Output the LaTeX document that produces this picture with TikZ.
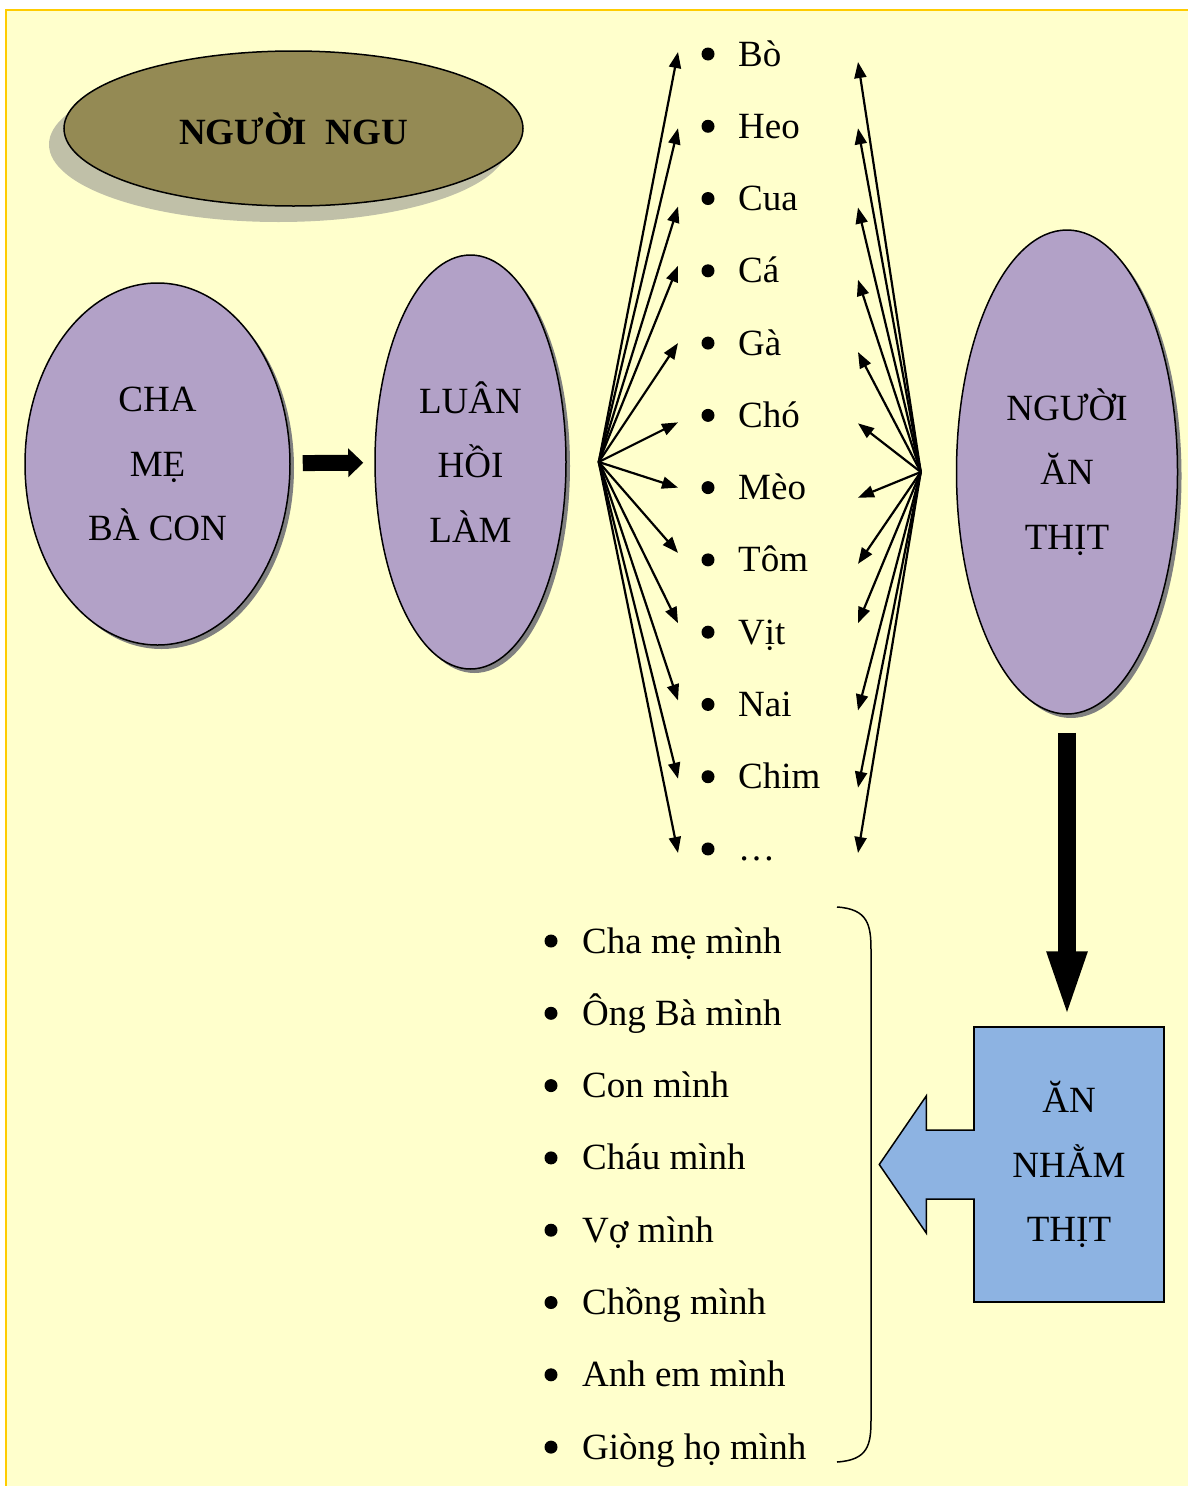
\documentclass[tikz,border=0pt]{standalone}
\usepackage{fontspec}
\setmainfont{Liberation Serif}
\usetikzlibrary{arrows.meta,positioning,shapes.geometric,shadows,calc}
\definecolor{paper}{HTML}{FFFFCC}
\definecolor{frame}{HTML}{FFCC00}
\definecolor{titlefill}{HTML}{948A54}
\definecolor{titleshade}{RGB}{192,192,168}
\definecolor{lilac}{HTML}{B2A1C7}
\definecolor{callblue}{HTML}{8DB3E2}

\begin{document}
\begin{tikzpicture}[
        x=1pt, y=-1pt,
        txt/.style={font=\fontsize{37}{64.5}\selectfont, align=center},
        oval/.style={ellipse, draw, line width=1.5pt, fill=lilac, inner sep=0pt, txt,
            drop shadow={shadow xshift=4pt, shadow yshift=-4pt, fill=black!50, opacity=1}},
        item/.style={anchor=base west, inner sep=0pt, font=\fontsize{37}{44}\selectfont},
        fan/.style={-{Triangle[length=16pt,width=12pt]}, line width=2.2pt},
        blk/.style={-{Triangle[length=15pt,width=28pt]}, line width=16pt},
        bigarr/.style={-{Triangle[length=70pt,width=35pt]}, line width=18pt},
    ]
        % page
        \useasboundingbox (0,0) rectangle (1188,1486);
        \fill[white] (0,0) rectangle (1188,1486);
        \fill[paper] (6,10) rectangle (1188,1486);
        \draw[frame, line width=2pt] (6,1486) -- (6,10) -- (1188,10);

        \node[ellipse, draw, line width=1.5pt, fill=titlefill, inner sep=0pt,
            minimum width=459pt, minimum height=155pt, font=\fontsize{37}{44}\selectfont\bfseries,
            drop shadow={shadow xshift=-15pt, shadow yshift=-16pt, fill=titleshade, opacity=1}]
            (ngu) at (293.5,128.5) {NGƯỜI~~NGU};

        \node[oval, minimum width=265pt, minimum height=362pt] (cha) at (157.5,464) {CHA\\MẸ\\BÀ CON};
        \node[oval, minimum width=191pt, minimum height=414pt] (luan) at (470.5,462) {LUÂN\\HỒI\\LÀM};
        \node[oval, minimum width=221pt, minimum height=484pt] (nguoi) at (1067,472) {NGƯỜI\\ĂN\\THỊT};
        \node[txt, draw, line width=1.5pt, fill=callblue, minimum width=190pt, minimum height=275pt]
            (an) at (1069,1164.5) {ĂN\\NHẰM\\THỊT};
        \filldraw[fill=callblue, line width=1.5pt] ($(an.west)+(1.5,-34.5)$) -- ($(an.west)+(-47,-34.5)$)
            -- ($(an.west)+(-47,-68.5)$) -- ($(an.west)+(-94,0)$) -- ($(an.west)+(-47,68.5)$)
            -- ($(an.west)+(-47,34.5)$) -- ($(an.west)+(1.5,34.5)$);

        \coordinate (hubL) at ([xshift=32pt]luan.east);
        \coordinate (hubR) at ([xshift=-35pt]nguoi.west);

        % animals
        \foreach \i/\t/\l/\r in {1/Bò/-2/8, 2/Heo/2/2, 3/Cua/8/9, 4/Cá/-5/9, 5/Gà/0/9, 6/Chó/7/8,
                7/Mèo/0/10, 8/Tôm/-7/4, 9/Vịt/-9/-9, 10/Nai/-4/6, 11/Chim/2/11, 12/…/4/4} {
            \node[item] (a\i) at (738, {66+(\i-1)*72.27}) {\t};
            \fill (708, {54+(\i-1)*72.27}) circle (6.5pt);
            \draw[fan] (hubL) -- ($(a\i.base west)+(-60,\l-12)$);
            \draw[fan] (hubR) -- ($(a\i.base west)+(120,\r-12)$);
        }

        % relatives
        \foreach \i/\t in {1/Cha mẹ mình, 2/Ông Bà mình, 3/Con mình, 4/Cháu mình,
                5/Vợ mình, 6/Chồng mình, 7/Anh em mình, 8/Giòng họ mình} {
            \node[item] (r\i) at (582, {953+(\i-1)*72.3}) {\t};
            \fill (551, {941+(\i-1)*72.3}) circle (6.5pt);
        }
        \draw[line width=1.5pt] (837,907) .. controls (868,909) and (871,925) .. (871,950)
            -- (871,1420) .. controls (871,1445) and (868,1460) .. (837,1462);

        \draw[blk, shorten <=12pt, shorten >=11pt] (cha) -- (luan);
        \draw[bigarr, shorten <=18pt, shorten >=5pt] (nguoi.south) -- (nguoi.south |- an.north);
    \end{tikzpicture}
\end{document}
